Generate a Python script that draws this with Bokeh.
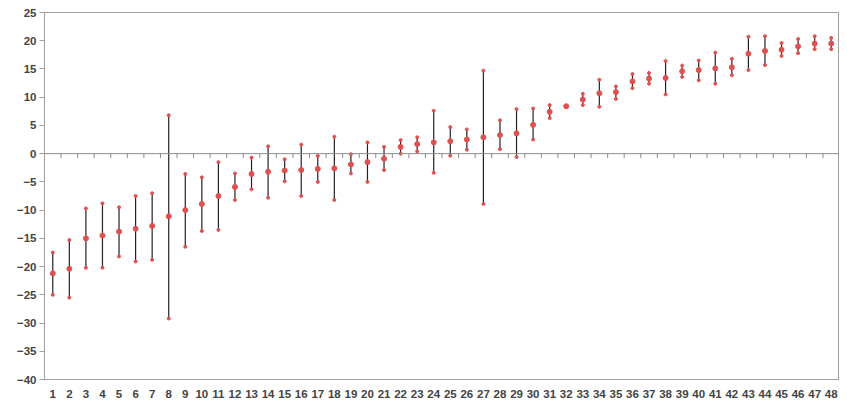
from bokeh.plotting import figure
from bokeh.embed import file_html
from bokeh.resources import INLINE
from bokeh.models import Range1d, FixedTicker, Span

cats = list(range(1, 49))
means = [-21.2,-20.4,-15,-14.5,-13.8,-13.3,-12.8,-11.1,-10,-8.9,-7.5,-5.9,-3.6,-3.2,-3,-2.9,-2.7,-2.6,-1.9,-1.5,-0.9,1.2,1.7,
         2.0,2.2,2.5,2.9,3.3,3.6,5.1,7.4,8.4,9.6,10.7,10.9,12.8,13.3,13.4,14.6,14.8,15.1,15.3,17.7,18.2,18.4,19.0,19.5,19.5]
lows = [-25,-25.5,-20.2,-20.2,-18.2,-19.1,-18.8,-29.2,-16.5,-13.7,-13.5,-8.2,-6.3,-7.8,-4.9,-7.5,-5,-8.2,-3.5,-5,-2.9,0,0.4,
        -3.4,-0.35,0.7,-8.9,0.8,-0.6,2.5,6.3,8.4,8.6,8.3,9.7,11.6,12.4,10.5,13.6,13,12.4,13.9,14.8,15.7,17.3,17.8,18.5,18.5]
highs = [-17.5,-15.3,-9.7,-8.8,-9.5,-7.5,-7,6.8,-3.6,-4.2,-1.5,-3.5,-0.7,1.3,-1,1.6,-0.4,3,-0.1,2,1.2,2.4,2.9,
         7.6,4.7,4.3,14.7,5.9,7.9,8,8.6,8.4,10.6,13.1,11.9,14.1,14.3,16.4,15.6,16.5,17.9,16.8,20.7,20.8,19.6,20.3,20.8,20.5]

p = figure(width=839, height=400, output_backend="svg", toolbar_location=None,
           x_range=Range1d(0.5, 48.5), y_range=Range1d(-40, 25),
           min_border_left=44, min_border_right=0, min_border_top=12, min_border_bottom=19)
p.xgrid.visible = False
p.ygrid.visible = False
p.outline_line_color = "#a0a0a0"
p.background_fill_color = "white"

p.add_layout(Span(location=0, dimension="width", line_color="#8c8c8c", line_width=1))
bounds = [c + 0.5 for c in cats[:-1]]
p.segment(x0=bounds, y0=[0]*len(bounds), x1=bounds, y1=[-0.8]*len(bounds), line_color="#8c8c8c", line_width=1)

p.segment(x0=cats, y0=lows, x1=cats, y1=highs, line_color="#222222", line_width=1.2)
p.scatter(cats, lows, size=3, color="#e05050")
p.scatter(cats, highs, size=3, color="#e05050")
p.scatter(cats, means, size=5, color="#e05050")

for ax in (p.xaxis[0], p.yaxis[0]):
    ax.major_label_text_font = "Liberation Sans"
    ax.major_label_text_font_style = "bold"
    ax.major_label_text_font_size = "11.5px"
    ax.axis_line_color = "#a0a0a0"
    ax.minor_tick_line_color = None
p.xaxis.ticker = FixedTicker(ticks=cats)
p.xaxis.major_tick_line_color = None
p.xaxis.major_label_standoff = 4
p.yaxis.ticker = FixedTicker(ticks=list(range(-40, 26, 5)))
p.yaxis.major_tick_line_color = "#a0a0a0"
p.yaxis.major_tick_out = 5
p.yaxis.major_tick_in = 0
p.yaxis.major_label_standoff = 3

open("out.html", "w").write(file_html(p, INLINE))
